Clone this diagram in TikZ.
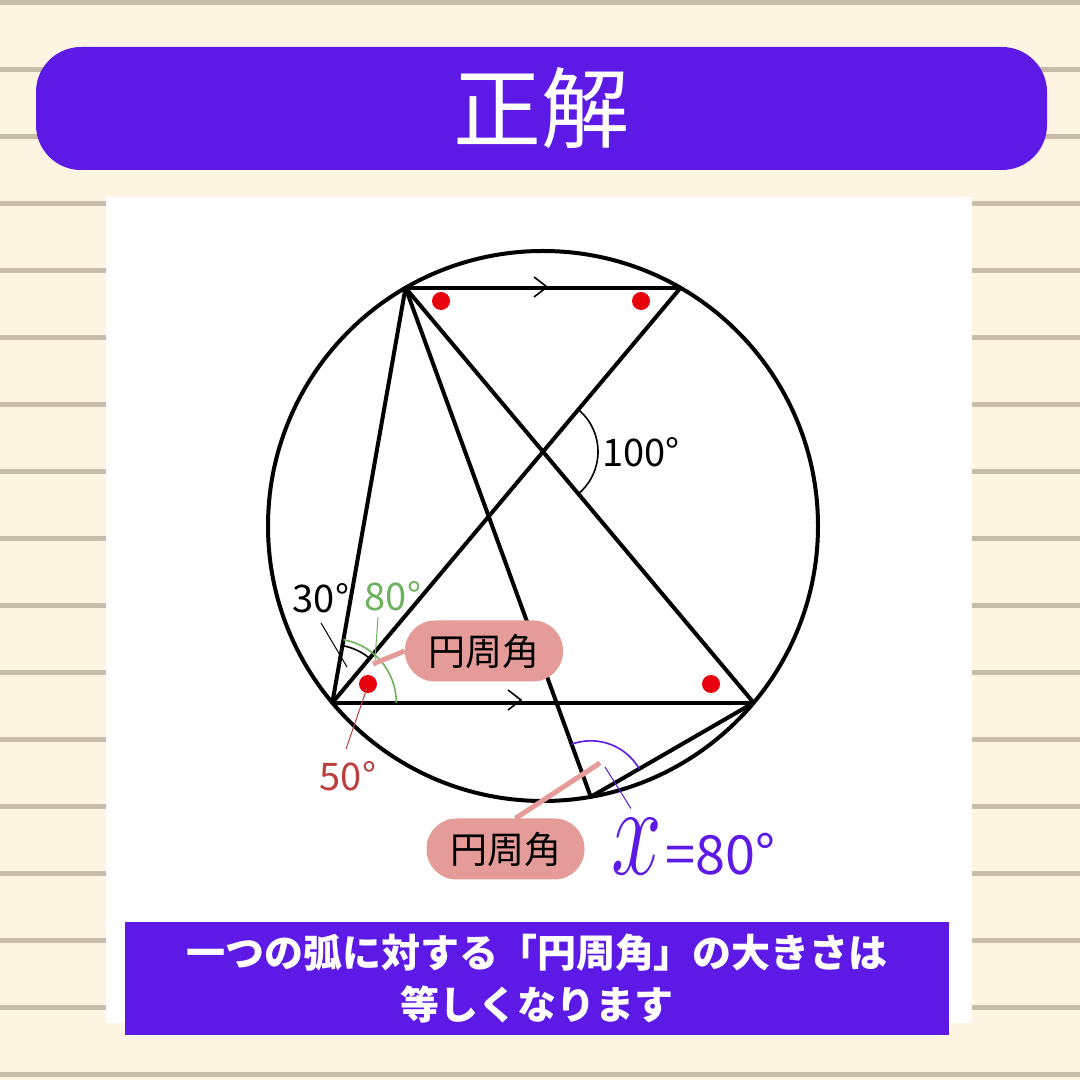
\RequirePackage{fix-cm}
\documentclass[tikz,border=0pt]{standalone}
\usepackage{fontspec}
\usepackage{graphicx}
\setmainfont{Noto Sans CJK JP}
\usetikzlibrary{calc}
\definecolor{papier}{RGB}{253,244,226}
\definecolor{linie}{RGB}{198,188,168}
\definecolor{lila}{RGB}{93,26,230}
\definecolor{rosa}{RGB}{229,156,153}
\definecolor{gruen}{RGB}{108,178,92}
\definecolor{dunkelrot}{RGB}{188,62,62}
\definecolor{punkt}{RGB}{232,0,12}
\newcommand{\fs}[1]{\fontsize{#1}{1.2\dimexpr#1pt\relax}\selectfont}
\tikzset{
    kante/.style={line width=4pt, line join=round},
    winkel/.style={line width=1.6pt},
    fein/.style={line width=1pt},
    marke/.style={fill=rosa, rounded corners=30pt, inner sep=0pt,
        minimum width=158pt, minimum height=61pt, font=\fs{37}},
    gradzahl/.style={inner sep=0pt, font=\fs{38}},
}
\begin{document}
\begin{tikzpicture}[x=1pt,y=1pt]
        % Hintergrund mit Linien
        \fill[papier] (0,0) rectangle (1080,1080);
        \useasboundingbox (0,0) rectangle (1080,1080);
        \foreach \k in {0,...,16}
            \draw[linie, line width=5pt] (0,1077-67*\k) -- (1080,1077-67*\k);
        % Titel
        \node[fill=lila, text=white, rounded corners=45pt, minimum width=1011pt,
            minimum height=123pt, inner sep=0pt, font=\fs{88}]
            (titel) at (541.5,971.5) {正解};
        \fill[white] (106,57) rectangle (972,883);
        % Kreis und Punkte
        \coordinate (O) at (543,554);
        \coordinate (A) at ($(O)+(120:275)$);
        \coordinate (B) at ($(O)+(60:275)$);
        \coordinate (C) at ($(O)+(220:275)$);
        \coordinate (D) at ($(O)+(320:275)$);
        \coordinate (E) at ($(O)+(280:275)$);
        \coordinate (P) at (intersection of A--D and B--C);
        \draw[kante] (O) circle[radius=275];
        % Sehnen
        \draw[kante] (A) -- (B);
        \draw[kante] (C) -- (D);
        \draw[kante] (A) -- (C);
        \draw[kante] (A) -- (D);
        \draw[kante] (B) -- (C);
        \draw[kante] (A) -- (E) -- (D);
        % Parallelpfeile
        \draw[winkel] (534,803) -- (547,793) -- (534,783);
        \draw[winkel] (508,390) -- (521,380) -- (508,370);
        % gleiche Winkel
        \fill[punkt] (441,779) circle[radius=9];
        \fill[punkt] (641,779) circle[radius=9];
        \fill[punkt] (368,396) circle[radius=9];
        \fill[punkt] (711,396) circle[radius=9];
        % Winkelboegen
        \draw[winkel] ($(P)+(50:55)$) arc[start angle=50, end angle=-50, radius=55];
        \draw[winkel] ($(C)+(50:58)$) arc[start angle=50, end angle=80, radius=58];
        \draw[winkel, gruen] ($(C)+(0:64)$) arc[start angle=0, end angle=80, radius=64];
        \draw[winkel, lila] ($(E)+(30:56)$) arc[start angle=30, end angle=110, radius=56];
        % Beschriftungen
        \node[gradzahl, anchor=west] (w100) at (602,628) {100°};
        \node[gradzahl] (w30) at (321,482) {30°};
        \node[gradzahl, text=gruen] (w80) at (393,484) {80°};
        \node[gradzahl, text=dunkelrot] (w50) at (348,304) {50°};
        \coordinate (z30) at (347,413);
        \coordinate (z80) at (375,420);
        \coordinate (z50) at (367,392);
        \draw[fein] (w30.south) ++(0,-10) -- (z30);
        \draw[fein, gruen] (w80.south) ++(-15,-6) -- (z80);
        \draw[fein, dunkelrot] (w50.north) ++(-2,12) -- (z50);
        % Kaertchen
        \node[marke] (kw1) at (484,429) {円周角};
        \node[marke] (kw2) at (505.5,231) {円周角};
        \coordinate (r1) at (373,416);
        \coordinate (r2) at (600,317);
        \draw[rosa, line width=5pt] (kw1.west) -- (r1);
        \draw[rosa, line width=5pt] ([xshift=10pt]kw2.north) -- (r2);
        % Ergebnis
        \node[inner sep=0pt, anchor=west, text=lila] (xwert) at (611,233)
            {\fs{70}\scalebox{1.3}[1.85]{$x$}\hspace{4pt}\fs{54}=80°};
        \coordinate (rx) at (605,313);
        \draw[fein, lila] ([shift={(20,10)}]xwert.north west) -- (rx);
        % Merksatz
        \node[fill=lila, text=white, minimum width=824pt, minimum height=113pt,
            inner sep=0pt, align=center, font=\fs{39}\bfseries]
            (satz) at (537,101.5)
            {一つの弧に対する「円周角」の大きさは\\[6pt]等しくなります};
\end{tikzpicture}
\end{document}
